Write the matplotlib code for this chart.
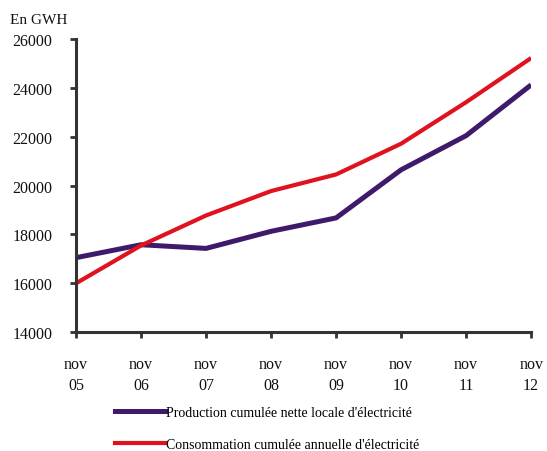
import matplotlib.pyplot as plt
from matplotlib.lines import Line2D

plt.rcParams['font.family'] = ['Liberation Serif', 'DejaVu Serif']

# annual cumulative figures, in GWh
months = ["nov\n05", "nov\n06", "nov\n07", "nov\n08", "nov\n09", "nov\n10", "nov\n11", "nov\n12"]
production = [17050, 17580, 17430, 18130, 18680, 20650, 22050, 24130]
consommation = [16000, 17550, 18780, 19780, 20460, 21720, 23420, 25230]

prod_color = "#3f1a6b"
cons_color = "#e0121f"

fig = plt.figure(figsize=(5.47, 4.52), dpi=100)
ax = fig.add_axes([0.139, 0.263, 0.832, 0.648])

x = range(len(months))
ax.plot(x, production, color=prod_color, lw=3.6, solid_capstyle="butt")
ax.plot(x, consommation, color=cons_color, lw=3.0, solid_capstyle="butt")

ax.set_xlim(0, len(months) - 1)
ax.set_ylim(14000, 26000)
ax.set_yticks(range(14000, 26001, 2000))
ax.set_xticks(list(x))
ax.set_xticklabels(months, linespacing=1.45)

for side in ["top", "right"]:
    ax.spines[side].set_visible(False)
for side in ["left", "bottom"]:
    ax.spines[side].set_linewidth(2.2)
    ax.spines[side].set_color("#333333")

ax.tick_params(axis="both", direction="out", length=4, width=2, color="#333333",
               labelsize=11.5, labelcolor="#111111")
ax.tick_params(axis="x", pad=13)
ax.tick_params(axis="y", pad=13)

fig.text(0.018, 0.948, "En GWH", fontsize=11, color="#111111")

# legend below the axes
handles = [Line2D([], [], color=prod_color, lw=3.6),
           Line2D([], [], color=cons_color, lw=3.0)]
labels = ["Production cumulée nette locale d'électricité",
          "Consommation cumulée annuelle d'électricité"]
fig.legend(handles, labels, loc="upper left", bbox_to_anchor=(0.21, 0.1),
           frameon=False, fontsize=10, handlelength=3.6, handletextpad=0.1,
           labelspacing=1.35, borderaxespad=0, borderpad=0)

fig.savefig("out.png", dpi=100)
